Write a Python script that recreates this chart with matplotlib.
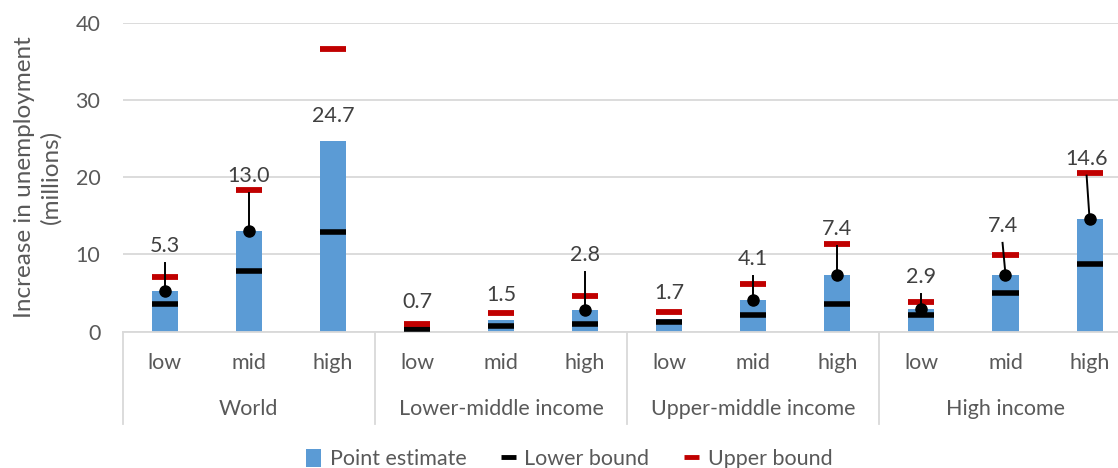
import numpy as np
import matplotlib
matplotlib.use("Agg")
from matplotlib import pyplot as plt
from matplotlib.patches import Patch
from matplotlib.lines import Line2D
import matplotlib.transforms as mtransforms

plt.rcParams['font.family'] = ['Lato', 'DejaVu Sans']

groups = ["World", "Lower-middle income", "Upper-middle income", "High income"]
scenarios = ["low", "mid", "high"]

point = [5.3, 13.0, 24.7, 0.7, 1.5, 2.8, 1.7, 4.1, 7.4, 2.9, 7.4, 14.6]
lower = [3.6, 7.8, 12.9, 0.4, 0.8, 0.95, 1.2, 2.2, 3.6, 2.2, 5.05, 8.8]
upper = [7.1, 18.4, 36.6, 1.0, 2.4, 4.65, 2.5, 6.2, 11.4, 3.8, 9.9, 20.5]

# where Excel dropped the data labels (value units), and which got a leader line
label_y = [11.1, 20.2, 27.9, 3.9, 4.75, 9.9, 5.05, 9.35, 13.25, 7.1, 13.7, 22.4]
label_dx = [0, 0, 0, 0, 0, 0, 0, 0, 0, 0, -0.035, -0.035]
leader = [True, True, False, False, False, True, False, True, True, True, True, True]

blue = "#5B9BD5"
red = "#C00000"
grid_c = "#D9D9D9"
tick_c = "#595959"
lab_c = "#404040"
fs = 15.5

W, H = 1118, 468
fig = plt.figure(figsize=(W / 100, H / 100), dpi=100)
x0, x1, yb, yt = 122.7, 1131.6, 331.7, 22.7
ax = fig.add_axes([x0 / W, 1 - yb / H, (x1 - x0) / W, (yb - yt) / H])

n = len(point)
x = np.arange(n)
bw = 0.31

ax.bar(x, point, width=bw, color=blue, zorder=2)
ax.hlines(lower, x - bw / 2, x + bw / 2, color="black", lw=4.0, zorder=3, capstyle="butt")
ax.hlines(upper, x - bw / 2, x + bw / 2, color=red, lw=4.2, zorder=3, capstyle="butt")

for i in range(n):
    lx = x[i] + label_dx[i]
    ax.text(lx, label_y[i], "%.1f" % point[i], ha="center", va="center",
            fontsize=fs, color=lab_c, zorder=5)
    if leader[i]:
        ax.plot([x[i], lx], [point[i], label_y[i] - 2.2], color="black", lw=1.4, zorder=4)
        ax.plot(x[i], point[i], "o", color="black", ms=8, zorder=4)

ax.set_xlim(-0.5, n - 0.5)
ax.set_ylim(0, 40)
ax.set_yticks([0, 10, 20, 30, 40])
ax.yaxis.grid(True, color=grid_c, lw=1.3)
ax.set_axisbelow(True)
for s in ["top", "right", "left"]:
    ax.spines[s].set_visible(False)
ax.spines["bottom"].set_color(grid_c)
ax.spines["bottom"].set_linewidth(1.3)
ax.tick_params(axis="y", length=0, pad=16, labelsize=fs, labelcolor=tick_c)
ax.set_xticks([])

trans = mtransforms.blended_transform_factory(ax.transData, ax.transAxes)
sep_bottom = -(424 - yb) / (yb - yt)
for k in range(len(groups) + 1):
    ax.plot([k * 3 - 0.5, k * 3 - 0.5], [0, sep_bottom], color=grid_c, lw=1.3,
            transform=trans, clip_on=False)
for i in range(n):
    ax.text(x[i], -(363 - yb) / (yb - yt), scenarios[i % 3], ha="center", va="center",
            fontsize=fs, color=tick_c, transform=trans)
for k, g in enumerate(groups):
    ax.text(k * 3 + 1, -(409 - yb) / (yb - yt), g, ha="center", va="center",
            fontsize=fs, color=tick_c, transform=trans)

fig.text(37.5 / W, 1 - 177 / H, "Increase in unemployment\n(millions)", rotation=90,
         ha="center", va="center", fontsize=17.5, color=tick_c, linespacing=1.3)

handles = [Patch(facecolor=blue, edgecolor="none"),
           Line2D([], [], color="black", lw=3.5, solid_capstyle="butt"),
           Line2D([], [], color=red, lw=3.5, solid_capstyle="butt")]
fig.legend(handles, ["Point estimate", "Lower bound", "Upper bound"], loc="center",
           bbox_to_anchor=(569 / W, 1 - 459 / H), ncol=3, frameon=False, fontsize=fs,
           labelcolor=tick_c, handlelength=0.7, handleheight=0.9, handletextpad=0.4,
           columnspacing=1.6)

fig.savefig("out.png", dpi=100)
